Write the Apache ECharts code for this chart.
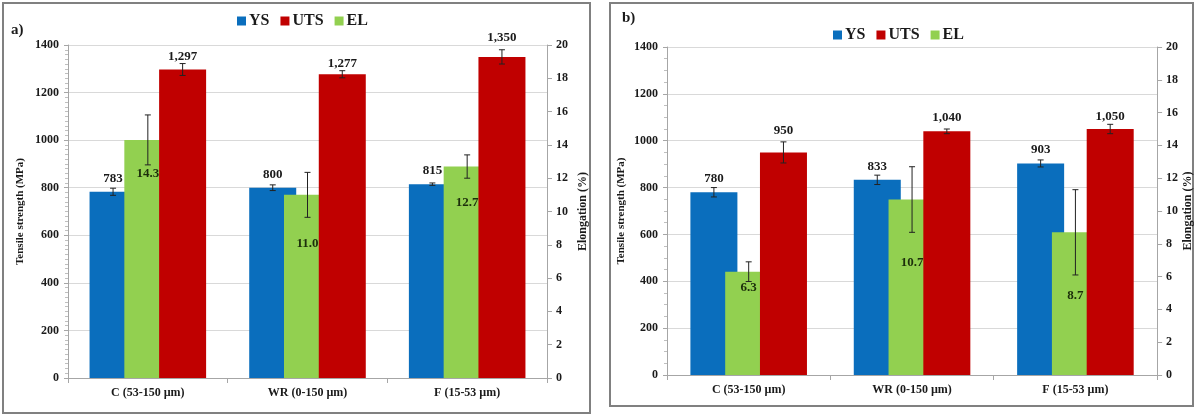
<!DOCTYPE html>
<html>
<head>
<meta charset="utf-8">
<script src="https://cdn.jsdelivr.net/npm/echarts@6/dist/echarts.min.js"></script>
<style>
  html, body { margin: 0; padding: 0; background: #fff; }
  #chart { width: 1195px; height: 416px; }
</style>
</head>
<body>
<div id="chart"></div>
<script>
// categories
const categories = ['C (53-150 µm)', 'WR (0-150 µm)', 'F (15-53 µm)']

// panel a)
const ysA = [783, 800, 815]
const ysErrA = [15, 12, 5]
const utsA = [1297, 1277, 1350]
const utsErrA = [25, 15, 30]
const elA = [14.3, 11.0, 12.7]
const elErrA = [1.5, 1.35, 0.7]

// panel b)
const ysB = [780, 833, 903]
const ysErrB = [20, 20, 15]
const utsB = [950, 1040, 1050]
const utsErrB = [45, 10, 20]
const elB = [6.3, 10.7, 8.7]
const elErrB = [0.6, 2.0, 2.6]

const leftTicks = { min: 0, max: 1400, interval: 200 }
const rightTicks = { min: 0, max: 20, interval: 2 }

const BLUE = '#0a6ebd'
const RED = '#c00000'
const GREEN = '#92d050'
const FONT = 'Liberation Serif'
const TXT = '#1a1a1a'
const BAR_W = 47
const BAR_GAP = -0.26

// label placement (px), styling only
const elDropA = [27, 42, 30]
const elDropB = [9, 57, 57]
const utsLiftA = [6, 4, 13]
const utsLiftB = [15, 7, 6]

const chart = echarts.init(document.getElementById('chart'))

const step = BAR_W * (1 + BAR_GAP)

// 误差线
const errRender = (offset) => (params, api) => {
  const i = api.value(0)
  const v = api.value(1)
  const e = api.value(2)
  const hi = api.coord([i, v + e])
  const lo = api.coord([i, v - e])
  const x = hi[0] + offset
  const st = { stroke: '#222', lineWidth: 1 }
  return {
    type: 'group',
    children: [
      { type: 'line', shape: { x1: x, y1: hi[1], x2: x, y2: lo[1] }, style: st },
      { type: 'line', shape: { x1: x - 3, y1: hi[1], x2: x + 3, y2: hi[1] }, style: st },
      { type: 'line', shape: { x1: x - 3, y1: lo[1], x2: x + 3, y2: lo[1] }, style: st }
    ]
  }
}

const errSeries = (name, vals, errs, xIdx, yIdx, offset) => ({
  name: name,
  type: 'custom',
  xAxisIndex: xIdx,
  yAxisIndex: yIdx,
  z: 5,
  silent: true,
  renderItem: errRender(offset),
  encode: { x: 0, y: 1 },
  data: vals.map((v, i) => [i, v, errs[i]])
})

const labelFont = { fontFamily: FONT, fontWeight: 'bold', fontSize: 13, color: TXT }

const panelSeries = (ys, ysErr, uts, utsErr, el, elErr, elDrop, utsLift, xIdx, yL, yR, tag) => [
  {
    name: 'YS',
    type: 'bar',
    xAxisIndex: xIdx,
    yAxisIndex: yL,
    barWidth: BAR_W,
    barGap: BAR_GAP * 100 + '%',
    itemStyle: { color: BLUE },
    label: { show: true, position: 'top', distance: 7, ...labelFont },
    data: ys
  },
  {
    name: 'EL',
    type: 'bar',
    xAxisIndex: xIdx,
    yAxisIndex: yR,
    barWidth: BAR_W,
    barGap: BAR_GAP * 100 + '%',
    itemStyle: { color: GREEN },
    label: {
      show: true,
      position: 'insideTop',
      ...labelFont,
      color: '#1c2e0b',
      formatter: (p) => p.value.toFixed(1)
    },
    data: el.map((v, i) => ({ value: v, label: { distance: elDrop[i] } }))
  },
  {
    name: 'UTS',
    type: 'bar',
    xAxisIndex: xIdx,
    yAxisIndex: yL,
    barWidth: BAR_W,
    barGap: BAR_GAP * 100 + '%',
    itemStyle: { color: RED },
    label: {
      show: true,
      position: 'top',
      ...labelFont,
      formatter: (p) => p.value.toLocaleString('en-US')
    },
    data: uts.map((v, i) => ({ value: v, label: { distance: utsLift[i] } }))
  },
  errSeries('ysErr' + tag, ys, ysErr, xIdx, yL, -step),
  errSeries('elErr' + tag, el, elErr, xIdx, yR, 0),
  errSeries('utsErr' + tag, uts, utsErr, xIdx, yL, step)
]

const axisText = { fontFamily: FONT, fontWeight: 'bold', fontSize: 12, color: TXT }
const axisLine = { show: true, lineStyle: { color: '#a6a6a6' } }

const xAxisOf = (gridIndex) => ({
  type: 'category',
  gridIndex: gridIndex,
  data: categories,
  axisLine: axisLine,
  axisTick: { show: true, length: 5, lineStyle: { color: '#a6a6a6' } },
  axisLabel: { ...axisText, margin: 9 }
})

const leftAxisOf = (gridIndex, minorSplit, nameGap) => ({
  type: 'value',
  gridIndex: gridIndex,
  position: 'left',
  ...leftTicks,
  name: 'Tensile strength (MPa)',
  nameLocation: 'middle',
  nameGap: nameGap,
  nameTextStyle: { fontFamily: FONT, fontWeight: 'bold', fontSize: 11, color: TXT },
  axisLine: axisLine,
  axisTick: { show: true, length: 4, lineStyle: { color: '#a6a6a6' } },
  minorTick: { show: true, splitNumber: minorSplit, length: 3, lineStyle: { color: '#bfbfbf' } },
  axisLabel: { ...axisText, margin: 9, formatter: (v) => String(v) },
  splitLine: { show: true, lineStyle: { color: '#d9d9d9' } }
})

const rightAxisOf = (gridIndex, nameGap) => ({
  type: 'value',
  gridIndex: gridIndex,
  position: 'right',
  ...rightTicks,
  name: 'Elongation (%)',
  nameLocation: 'middle',
  nameGap: nameGap,
  nameTextStyle: { fontFamily: FONT, fontWeight: 'bold', fontSize: 12, color: TXT },
  axisLine: axisLine,
  axisTick: { show: true, length: 5, lineStyle: { color: '#a6a6a6' } },
  axisLabel: { ...axisText, margin: 9 },
  splitLine: { show: false }
})

const legendOf = (left, top) => ({
  left: left,
  top: top,
  data: ['YS', 'UTS', 'EL'],
  icon: 'rect',
  itemWidth: 9,
  itemHeight: 9,
  itemGap: 11,
  textStyle: { fontFamily: FONT, fontWeight: 'bold', fontSize: 16, color: TXT, padding: [0, 0, 0, -2] }
})

const option = {
  animation: false,
  backgroundColor: '#fff',
  title: [
    { text: 'a)', left: 6, top: 18, textStyle: { fontFamily: FONT, fontWeight: 'bold', fontSize: 15, color: TXT } },
    { text: 'b)', left: 617, top: 6, textStyle: { fontFamily: FONT, fontWeight: 'bold', fontSize: 15, color: TXT } }
  ],
  legend: [legendOf(232, 8), legendOf(828, 22)],
  grid: [
    { left: 68, top: 45, width: 479, height: 333 },
    { left: 667, top: 47, width: 491, height: 328 }
  ],
  xAxis: [xAxisOf(0), xAxisOf(1)],
  yAxis: [
    leftAxisOf(0, 10, 42),
    rightAxisOf(0, 30),
    leftAxisOf(1, 4, 40),
    rightAxisOf(1, 24)
  ],
  series: [
    ...panelSeries(ysA, ysErrA, utsA, utsErrA, elA, elErrA, elDropA, utsLiftA, 0, 0, 1, 'A'),
    ...panelSeries(ysB, ysErrB, utsB, utsErrB, elB, elErrB, elDropB, utsLiftB, 1, 2, 3, 'B')
  ],
  graphic: [
    { type: 'rect', shape: { x: 3, y: 3, width: 587, height: 410 }, style: { fill: 'none', stroke: '#808080', lineWidth: 2 }, silent: true },
    { type: 'rect', shape: { x: 610, y: 3, width: 583, height: 403 }, style: { fill: 'none', stroke: '#808080', lineWidth: 2 }, silent: true }
  ]
}

option && chart.setOption(option)
</script>
</body>
</html>
